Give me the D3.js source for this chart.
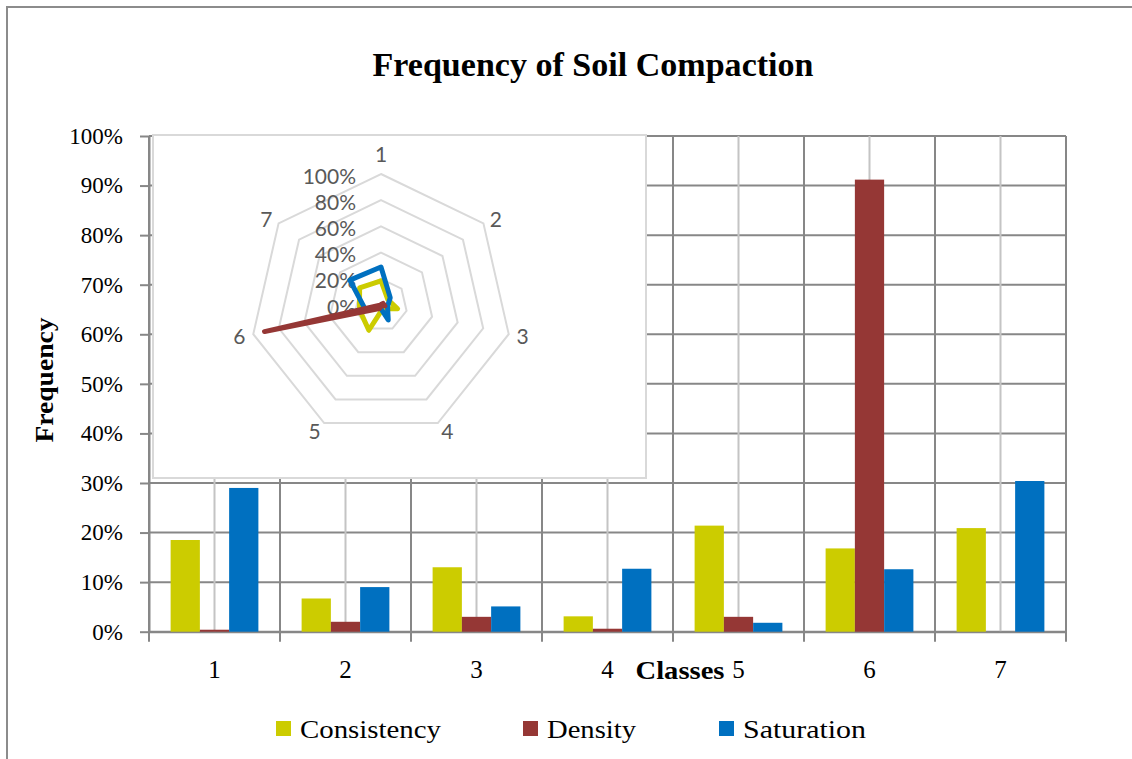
<!DOCTYPE html>
<html>
<head>
<meta charset="utf-8">
<script src="https://cdn.jsdelivr.net/npm/d3@7"></script>
<style>
  body { margin: 0; background: #fff; }
  svg { display: block; }
</style>
</head>
<body>
<svg id="chart" width="1132" height="759"></svg>
<script>
// Frequency of soil compaction classes for three soil properties
const classes = ["1", "2", "3", "4", "5", "6", "7"];
const seriesNames = ["Consistency", "Density", "Saturation"];
const consistency = [0.185, 0.067, 0.130, 0.031, 0.214, 0.168, 0.209];
const density     = [0.004, 0.020, 0.030, 0.006, 0.030, 0.912, 0.000];
const saturation  = [0.290, 0.090, 0.051, 0.127, 0.018, 0.126, 0.304];
const seriesColors = ["#CCCC00", "#953735", "#0070C0"];
const yTicks = [0, 0.1, 0.2, 0.3, 0.4, 0.5, 0.6, 0.7, 0.8, 0.9, 1.0];
const radarTicks = [0, 0.2, 0.4, 0.6, 0.8, 1.0];

const seriesValues = [consistency, density, saturation];
const series = seriesNames.map((name, i) => ({ name, color: seriesColors[i], values: seriesValues[i] }));

const svg = d3.select("#chart");
const serif = "'Liberation Serif', 'Times New Roman', serif";
const sans = "Lato, 'Open Sans', sans-serif";
const gridDark = "#878787";
const gridLight = "#c4c4c4";

// outer frame (left and top edges)
svg.append("path")
  .attr("d", "M7,759 V7 H1132")
  .attr("fill", "none").attr("stroke", "#8c8c8c").attr("stroke-width", 2);

// title
svg.append("text")
  .attr("x", 593).attr("y", 76)
  .attr("text-anchor", "middle")
  .attr("font-family", serif).attr("font-weight", "bold").attr("font-size", 34)
  .attr("textLength", 441).attr("lengthAdjust", "spacingAndGlyphs")
  .text("Frequency of Soil Compaction");

// scales for the bar chart
const plot = { left: 149, right: 1066, top: 136, bottom: 631.7 };
const x0 = d3.scaleBand().domain(classes).range([plot.left, plot.right]).padding(0);
const bw = x0.bandwidth();
const x1 = d3.scaleBand().domain(seriesNames).range([bw * 0.165, bw * 0.835]).padding(0);
const y = d3.scaleLinear().domain([0, 1]).range([plot.bottom, plot.top]);

// horizontal gridlines
const grid = svg.append("g");
grid.selectAll("line.h").data(yTicks).join("line")
  .attr("x1", plot.left).attr("x2", plot.right)
  .attr("y1", d => y(d)).attr("y2", d => y(d))
  .attr("stroke", gridDark).attr("stroke-width", 2);

// vertical gridlines: light at class centres, dark at class boundaries
grid.selectAll("line.c").data(classes).join("line")
  .attr("x1", d => x0(d) + bw / 2).attr("x2", d => x0(d) + bw / 2)
  .attr("y1", plot.top).attr("y2", plot.bottom)
  .attr("stroke", gridLight).attr("stroke-width", 2);
const boundaries = classes.map(c => x0(c)).concat([plot.right]);
grid.selectAll("line.b").data(boundaries).join("line")
  .attr("x1", d => d).attr("x2", d => d)
  .attr("y1", plot.top).attr("y2", plot.bottom + 10)
  .attr("stroke", gridDark).attr("stroke-width", 2);

// y axis
const yAxis = svg.append("g")
  .attr("transform", `translate(${plot.left},0)`)
  .call(d3.axisLeft(y).tickValues(yTicks).tickSize(9).tickSizeOuter(0).tickPadding(17)
    .tickFormat(d3.format(".0%")));
yAxis.select(".domain").attr("stroke", gridDark).attr("stroke-width", 2);
yAxis.selectAll(".tick line").attr("stroke", gridDark).attr("stroke-width", 2);
yAxis.selectAll(".tick text")
  .attr("font-family", serif).attr("font-size", 23).attr("fill", "#000");

// x axis
const xAxis = svg.append("g")
  .attr("transform", `translate(0,${plot.bottom})`)
  .call(d3.axisBottom(x0).tickSize(0).tickSizeOuter(0).tickPadding(29));
xAxis.select(".domain").attr("stroke", gridDark).attr("stroke-width", 2);
xAxis.selectAll(".tick text")
  .attr("font-family", serif).attr("font-size", 25).attr("fill", "#000");

// axis titles
svg.append("text")
  .attr("x", 680).attr("y", 679)
  .attr("text-anchor", "middle")
  .attr("font-family", serif).attr("font-weight", "bold").attr("font-size", 25)
  .attr("textLength", 89).attr("lengthAdjust", "spacingAndGlyphs")
  .text("Classes");
svg.append("text")
  .attr("transform", "translate(53,380) rotate(-90)")
  .attr("text-anchor", "middle")
  .attr("font-family", serif).attr("font-weight", "bold").attr("font-size", 25)
  .attr("textLength", 125).attr("lengthAdjust", "spacingAndGlyphs")
  .text("Frequency");

// bars
const bars = svg.append("g");
series.forEach(s => {
  bars.append("g").selectAll("rect").data(classes).join("rect")
    .attr("x", (c) => x0(c) + x1(s.name))
    .attr("width", x1.bandwidth())
    .attr("y", (c, i) => y(s.values[i]))
    .attr("height", (c, i) => y(0) - y(s.values[i]))
    .attr("fill", s.color);
});

// inset radar chart
const inset = { x: 153, y: 135, w: 493, h: 343 };
svg.append("rect")
  .attr("x", inset.x).attr("y", inset.y).attr("width", inset.w).attr("height", inset.h)
  .attr("fill", "#fff").attr("stroke", "#d9d9d9").attr("stroke-width", 2);

const cx = 381, cy = 305;
const r = d3.scaleLinear().domain([0, 1]).range([0, 131]);
const angle = i => i * 2 * Math.PI / classes.length;
const radar = svg.append("g").attr("transform", `translate(${cx},${cy})`);

const ring = d3.lineRadial().angle((d, i) => angle(i)).radius(d => r(d)).curve(d3.curveLinearClosed);
radar.selectAll("path.ring").data(radarTicks.slice(1)).join("path")
  .attr("d", t => ring(classes.map(() => t)))
  .attr("fill", "none").attr("stroke", "#d9d9d9").attr("stroke-width", 2);

// class labels around the radar
radar.selectAll("text.cls").data(classes).join("text")
  .each(function (c, i) {
    const a = angle(i), ux = Math.sin(a), uy = -Math.cos(a);
    const vx = r(1) * ux, vy = r(1) * uy;
    const gap = 8;
    let tx = vx + ux * gap, ty = vy + uy * gap;
    let anchor = "middle";
    if (ux > 0.1) anchor = "start";
    else if (ux < -0.1) anchor = "end";
    else ty -= 13;
    d3.select(this).attr("x", tx).attr("y", ty).attr("text-anchor", anchor);
  })
  .attr("dominant-baseline", "central")
  .attr("font-family", sans).attr("font-size", 21).attr("fill", "#595959")
  .text(c => c);

// radial value labels
radar.selectAll("text.tick").data(radarTicks).join("text")
  .attr("x", -25).attr("y", t => -r(t) + 1)
  .attr("text-anchor", "end").attr("dominant-baseline", "central")
  .attr("font-family", sans).attr("font-size", 21).attr("fill", "#595959")
  .text(d3.format(".0%"));

// series outlines
const outline = d3.lineRadial().angle((d, i) => angle(i)).radius(d => r(d)).curve(d3.curveLinearClosed);
[0, 2, 1].forEach(k => {
  const s = series[k];
  radar.append("path")
    .attr("d", outline(s.values))
    .attr("fill", "none").attr("stroke", s.color).attr("stroke-width", 5)
    .attr("stroke-linejoin", "round");
});

// legend
const legendX = [276, 523, 719];
const legendLen = [141, 89, 123];
const legend = svg.append("g");
series.forEach((s, i) => {
  legend.append("rect")
    .attr("x", legendX[i]).attr("y", 721).attr("width", 15).attr("height", 15)
    .attr("fill", s.color);
  legend.append("text")
    .attr("x", legendX[i] + 24).attr("y", 738)
    .attr("font-family", serif).attr("font-size", 26).attr("fill", "#000")
    .attr("textLength", legendLen[i]).attr("lengthAdjust", "spacingAndGlyphs")
    .text(s.name);
});
</script>
</body>
</html>
